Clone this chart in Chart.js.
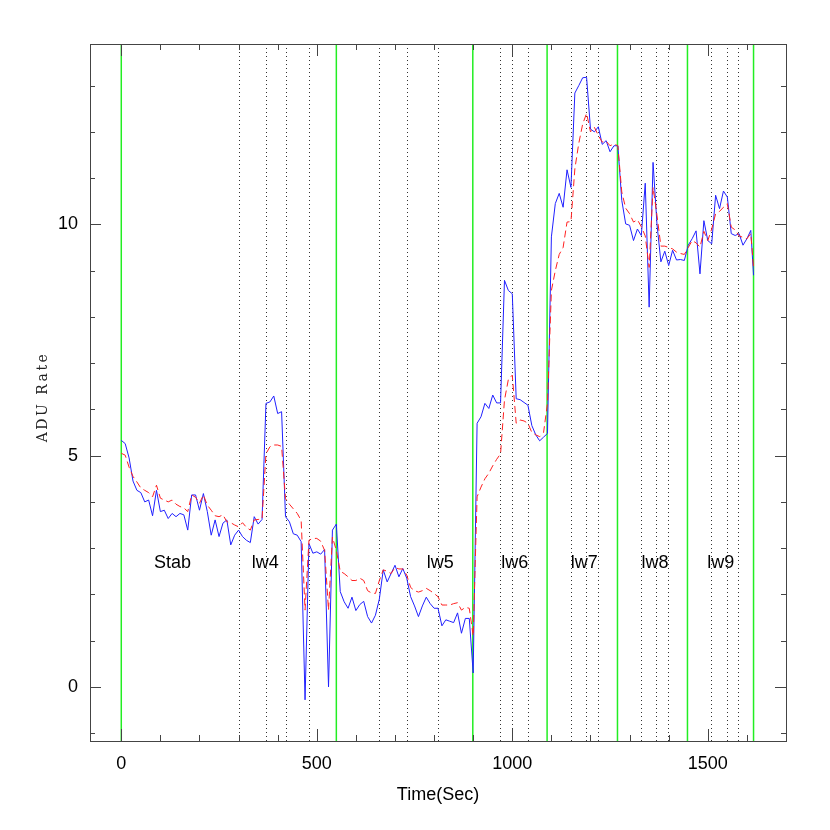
<!DOCTYPE html>
<html>
<head>
<meta charset="utf-8">
<script src="https://cdn.jsdelivr.net/npm/chart.js@4/dist/chart.umd.min.js"></script>
<style>
  html, body { margin: 0; padding: 0; background: #fff; }
  #wrap { width: 830px; height: 830px; }
</style>
</head>
<body>
<div id="wrap"><canvas id="c" width="830" height="830"></canvas></div>
<script>
// time (s) of each sample
const times = [
  0, 10, 20, 30, 40, 50, 60, 70, 80, 90,
  100, 110, 120, 130, 140, 150, 160, 170, 180, 190,
  200, 210, 220, 230, 240, 250, 260, 270, 280, 290,
  300, 310, 320, 330, 340, 350, 360, 370, 380, 390,
  400, 410, 420, 430, 440, 450, 460, 470, 480, 490,
  500, 510, 520, 530, 540, 550, 560, 570, 580, 590,
  600, 610, 620, 630, 640, 650, 660, 670, 680, 690,
  700, 710, 720, 730, 740, 750, 760, 770, 780, 790,
  800, 810, 820, 830, 840, 850, 860, 870, 880, 890,
  900, 910, 920, 930, 940, 950, 960, 970, 980, 990,
  1000, 1010, 1020, 1030, 1040, 1050, 1060, 1070, 1080, 1090,
  1100, 1110, 1120, 1130, 1140, 1150, 1160, 1170, 1180, 1190,
  1200, 1210, 1220, 1230, 1240, 1250, 1260, 1270, 1280, 1290,
  1300, 1310, 1320, 1330, 1340, 1350, 1360, 1370, 1380, 1390,
  1400, 1410, 1420, 1430, 1440, 1450, 1460, 1470, 1480, 1490,
  1500, 1510, 1520, 1530, 1540, 1550, 1560, 1570, 1580, 1590,
  1600, 1610, 1617
];

// raw ADU rate (blue solid)
const aduRaw = [
  5.33, 5.26, 4.95, 4.45, 4.25, 4.2, 4.0, 4.04, 3.7, 4.25,
  3.79, 3.82, 3.64, 3.75, 3.68, 3.75, 3.72, 3.39, 4.15, 4.15,
  3.82, 4.18, 3.79, 3.28, 3.61, 3.25, 3.54, 3.61, 3.07, 3.28,
  3.39, 3.25, 3.17, 3.12, 3.68, 3.52, 3.62, 6.13, 6.16, 6.29,
  5.91, 5.95, 3.68, 3.57, 3.31, 3.28, 3.14, -0.28, 3.1, 2.89,
  2.92, 2.87, 2.97, 0.0, 3.39, 3.52, 2.06, 1.84, 1.7, 1.94,
  1.65, 1.78, 1.85, 1.52, 1.38, 1.55, 1.9, 2.53, 2.27, 2.45,
  2.63, 2.38, 2.56, 2.35, 1.95, 1.75, 1.52, 1.75, 1.94, 1.8,
  1.7, 1.7, 1.32, 1.45, 1.42, 1.39, 1.6, 1.16, 1.48, 1.48,
  0.3, 5.7, 5.84, 6.13, 6.02, 6.31, 6.14, 6.14, 8.79, 8.57,
  8.5, 6.23, 6.21, 6.15, 6.09, 5.65, 5.45, 5.32, 5.4, 5.48,
  9.73, 10.45, 10.67, 10.37, 11.18, 10.8, 12.84, 13.0, 13.17, 13.18,
  12.06, 12.0, 12.11, 11.73, 11.81, 11.57, 11.7, 11.7, 10.52, 10.01,
  9.98, 9.65, 9.9, 9.76, 10.89, 8.21, 11.34, 10.01, 9.19, 9.42,
  9.11, 9.44, 9.23, 9.24, 9.22, 9.55, 9.69, 9.86, 8.93, 10.08,
  9.65, 9.58, 10.63, 10.34, 10.72, 10.59, 9.8, 9.76, 9.8, 9.55,
  9.69, 9.87, 8.9
];

// smoothed ADU rate (red dashed)
const aduSmooth = [
  5.05, 5.01, 4.75, 4.55, 4.43, 4.3, 4.25, 4.2, 4.11, 4.36,
  4.08, 4.04, 4.0, 4.04, 3.95, 3.9, 3.87, 3.79, 4.15, 4.1,
  3.97, 4.15, 3.93, 3.82, 3.7, 3.68, 3.72, 3.57, 3.55, 3.5,
  3.46, 3.55, 3.45, 3.39, 3.61, 3.62, 3.63, 5.04, 5.19, 5.23,
  5.23, 5.2, 4.07, 3.95, 3.85, 3.75, 3.6, 1.66, 3.17, 3.21,
  3.21, 3.15, 2.95, 1.66, 3.24, 2.95, 2.5, 2.45, 2.38, 2.3,
  2.3, 2.35, 2.3, 2.08, 2.03, 2.02, 2.3, 2.53, 2.5, 2.45,
  2.58, 2.55, 2.55, 2.42, 2.15, 2.08, 2.05, 2.08, 2.13, 2.08,
  2.02, 1.95, 1.77, 1.77, 1.77, 1.8, 1.82, 1.66, 1.72, 1.7,
  1.1, 4.11, 4.32, 4.5, 4.62, 4.78, 4.92, 5.04, 6.2, 6.65,
  6.74, 5.7, 5.77, 5.75, 5.7, 5.5, 5.45, 5.41, 5.5, 6.13,
  8.57, 9.0, 9.35, 9.5, 10.05, 10.06, 11.2, 11.75, 12.17, 12.4,
  12.0, 12.1, 11.92, 11.78, 11.8, 11.7, 11.74, 11.7, 10.7, 10.35,
  10.23, 10.05, 10.1, 9.95, 9.75, 9.07, 10.8, 10.2, 9.53, 9.53,
  9.5, 9.47, 9.4, 9.37, 9.35, 9.5, 9.65, 9.6, 9.51, 9.85,
  9.65, 9.9, 10.23, 10.28, 10.37, 10.45, 9.94, 9.88, 9.75, 9.72,
  9.69, 9.8, 9.07
];

// phase boundaries (green) and step marks (dotted)
const phaseBounds = [0, 550, 899, 1089, 1269, 1448, 1617];
const stepTimes = [301, 371, 421, 480, 659, 730, 809, 969, 998, 1040,
                   1150, 1189, 1219, 1328, 1368, 1398, 1508, 1548, 1577];
const phaseNames = ['Stab', 'lw4', 'lw5', 'lw6', 'lw7', 'lw8', 'lw9'];
const phaseLabelTimes = [131, 368, 816, 1006, 1184, 1365, 1533];
const phaseLabelLevel = 2.58;

const xTicks = [0, 500, 1000, 1500];
const xMinor = [0, 100, 200, 300, 400, 500, 600, 700, 800, 900, 1000,
                1100, 1200, 1300, 1400, 1500, 1600, 1700];
const yTicks = [0, 5, 10];
const yMinor = [-1, 0, 1, 2, 3, 4, 5, 6, 7, 8, 9, 10, 11, 12, 13];

const SANS = '"Liberation Sans", Arial, sans-serif';

const pts = (ys) => times.map((t, i) => ({ x: t, y: ys[i] }));

const decor = {
  id: 'decor',
  beforeDatasetsDraw(chart) {
    const { ctx, chartArea: a, scales: { x } } = chart;
    ctx.save();
    ctx.lineWidth = 1;
    ctx.strokeStyle = '#333';
    ctx.setLineDash([1, 3]);
    stepTimes.forEach(t => {
      const px = Math.round(x.getPixelForValue(t)) + 0.5;
      ctx.beginPath(); ctx.moveTo(px, a.top); ctx.lineTo(px, a.bottom); ctx.stroke();
    });
    ctx.setLineDash([]);
    ctx.strokeStyle = '#22ee22';
    ctx.lineWidth = 1.5;
    phaseBounds.forEach(t => {
      const px = x.getPixelForValue(t);
      ctx.beginPath(); ctx.moveTo(px, a.top); ctx.lineTo(px, a.bottom); ctx.stroke();
    });
    ctx.restore();
  },
  afterDatasetsDraw(chart) {
    const { ctx, chartArea: a, scales: { x, y } } = chart;
    ctx.save();
    // box
    ctx.strokeStyle = '#444';
    ctx.lineWidth = 1;
    ctx.strokeRect(Math.round(a.left) + 0.5, Math.round(a.top) + 0.5,
                   Math.round(a.right - a.left), Math.round(a.bottom - a.top));
    // inward ticks, all four sides
    const tickX = (v, len) => {
      const px = Math.round(x.getPixelForValue(v)) + 0.5;
      if (px < a.left || px > a.right) return;
      ctx.beginPath();
      ctx.moveTo(px, a.bottom); ctx.lineTo(px, a.bottom - len);
      ctx.moveTo(px, a.top); ctx.lineTo(px, a.top + len);
      ctx.stroke();
    };
    const tickY = (v, len) => {
      const py = Math.round(y.getPixelForValue(v)) + 0.5;
      if (py < a.top || py > a.bottom) return;
      ctx.beginPath();
      ctx.moveTo(a.left, py); ctx.lineTo(a.left + len, py);
      ctx.moveTo(a.right, py); ctx.lineTo(a.right - len, py);
      ctx.stroke();
    };
    xMinor.forEach(v => tickX(v, 6));
    xTicks.forEach(v => tickX(v, 12));
    yMinor.forEach(v => tickY(v, 5));
    yTicks.forEach(v => tickY(v, 11));

    // phase labels
    ctx.fillStyle = '#000';
    ctx.font = '18px ' + SANS;
    ctx.textAlign = 'center';
    ctx.textBaseline = 'alphabetic';
    phaseNames.forEach((name, i) => {
      ctx.fillText(name, x.getPixelForValue(phaseLabelTimes[i]), y.getPixelForValue(phaseLabelLevel));
    });

    // y title in a wide serif, like the original
    ctx.translate(47, 397);
    ctx.rotate(-Math.PI / 2);
    ctx.font = '14px "DejaVu Serif", "Liberation Serif", serif';
    ctx.letterSpacing = '2.5px';
    ctx.fillStyle = '#222';
    ctx.fillText('ADU Rate', 0, 0);
    ctx.restore();
  }
};

new Chart(document.getElementById('c'), {
  type: 'line',
  data: {
    datasets: [
      {
        label: 'smoothed',
        data: pts(aduSmooth),
        borderColor: '#ff2020',
        borderWidth: 1,
        borderDash: [7, 4],
        pointRadius: 0,
        tension: 0,
        order: 0
      },
      {
        label: 'raw',
        data: pts(aduRaw),
        borderColor: '#2020ff',
        borderWidth: 1,
        pointRadius: 0,
        tension: 0,
        order: 1
      }
    ]
  },
  options: {
    responsive: false,
    animation: false,
    devicePixelRatio: 1,
    layout: { padding: { top: 44, right: 44, left: 0, bottom: 0 } },
    plugins: {
      legend: { display: false },
      tooltip: { enabled: false }
    },
    scales: {
      x: {
        type: 'linear',
        min: -80,
        max: 1700,
        afterBuildTicks: (s) => { s.ticks = xTicks.map(v => ({ value: v })); },
        afterFit: (s) => { s.height = 89; },
        grid: { display: false, drawTicks: false },
        border: { display: false },
        ticks: {
          color: '#000', padding: 12, font: { family: SANS, size: 18 },
          callback: (v) => String(v)
        },
        title: {
          display: true,
          text: 'Time(Sec)',
          color: '#000',
          font: { family: SANS, size: 18 },
          padding: { top: 0, bottom: 24 }
        }
      },
      y: {
        type: 'linear',
        min: -1.17,
        max: 13.9,
        afterBuildTicks: (s) => { s.ticks = yTicks.map(v => ({ value: v })); },
        afterFit: (s) => { s.width = 90; },
        grid: { display: false, drawTicks: false },
        border: { display: false },
        ticks: {
          color: '#000', padding: 12, font: { family: SANS, size: 18 },
          callback: (v) => String(v)
        }
      }
    }
  },
  plugins: [decor]
});
</script>
</body>
</html>
